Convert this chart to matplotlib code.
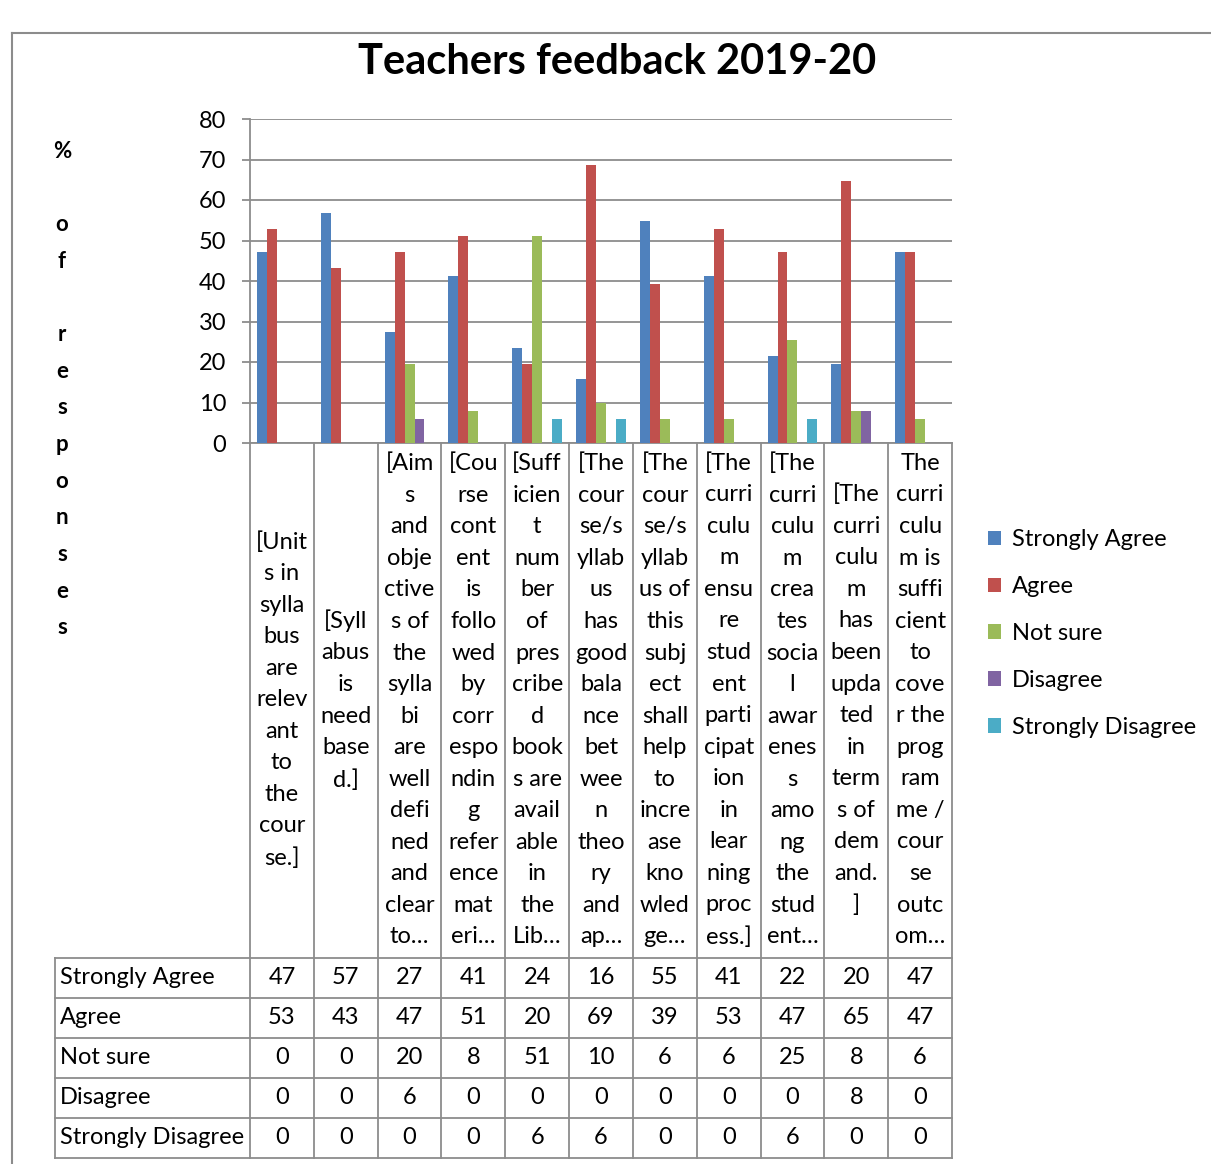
import numpy as np
import matplotlib
matplotlib.use('Agg')
import matplotlib.pyplot as plt
from matplotlib.transforms import blended_transform_factory

plt.rcParams['font.family'] = ['Lato', 'DejaVu Sans']

categories = [
    "[Unit\ns in\nsylla\nbus\nare\nrelev\nant\nto\nthe\ncour\nse.]",
    "[Syll\nabus\nis\nneed\nbase\nd.]",
    "[Aim\ns\nand\nobje\nctive\ns of\nthe\nsylla\nbi\nare\nwell\ndefi\nned\nand\nclear\nto…",
    "[Cou\nrse\ncont\nent\nis\nfollo\nwed\nby\ncorr\nespo\nndin\ng\nrefer\nence\nmat\neri…",
    "[Suff\nicien\nt\nnum\nber\nof\npres\ncribe\nd\nbook\ns are\navail\nable\nin\nthe\nLib…",
    "[The\ncour\nse/s\nyllab\nus\nhas\ngood\nbala\nnce\nbet\nwee\nn\ntheo\nry\nand\nap…",
    "[The\ncour\nse/s\nyllab\nus of\nthis\nsubj\nect\nshall\nhelp\nto\nincre\nase\nkno\nwled\nge…",
    "[The\ncurri\nculu\nm\nensu\nre\nstud\nent\nparti\ncipat\nion\nin\nlear\nning\nproc\ness.]",
    "[The\ncurri\nculu\nm\ncrea\ntes\nsocia\nl\nawar\nenes\ns\namo\nng\nthe\nstud\nent…",
    "[The\ncurri\nculu\nm\nhas\nbeen\nupda\nted\nin\nterm\ns of\ndem\nand.\n]",
    "The\ncurri\nculu\nm is\nsuffi\ncient\nto\ncove\nr the\nprog\nram\nme /\ncour\nse\noutc\nom…",
]
series_names = ["Strongly Agree", "Agree", "Not sure", "Disagree", "Strongly Disagree"]
strongly_agree = [47.1, 56.9, 27.4, 41.2, 23.5, 15.7, 54.9, 41.2, 21.6, 19.6, 47.1]
agree = [52.9, 43.1, 47.1, 51.0, 19.6, 68.6, 39.2, 52.9, 47.1, 64.7, 47.1]
not_sure = [0, 0, 19.6, 7.8, 51.0, 9.8, 5.9, 5.9, 25.4, 7.8, 5.9]
disagree = [0, 0, 5.9, 0, 0, 0, 0, 0, 0, 7.8, 0]
strongly_disagree = [0, 0, 0, 0, 5.9, 5.9, 0, 0, 5.9, 0, 0]
series = [strongly_agree, agree, not_sure, disagree, strongly_disagree]
colors = ['#4F81BD', '#C0504D', '#9BBB59', '#8064A2', '#4BACC6']

W, H = 1211, 1164
grey = '#8c8c8c'
fs = 17

fig = plt.figure(figsize=(W / 100, H / 100), dpi=100)

# eixo "overlay" em pixels para a tabela, titulo e moldura
ov = fig.add_axes([0, 0, 1, 1])
ov.set_xlim(0, W)
ov.set_ylim(H, 0)
ov.axis('off')

ax = fig.add_axes([250 / W, (H - 443) / H, 702 / W, 324 / H])
x = np.arange(len(categories))
bw = 0.156
for k, (name, vals, col) in enumerate(zip(series_names, series, colors)):
    ax.bar(x + (k - 2) * bw, vals, bw, color=col, label=name, zorder=3)

ax.set_xlim(-0.5, len(categories) - 0.5)
ax.set_ylim(0, 80)
ax.set_yticks(range(0, 81, 10))
ax.set_xticks([])
ax.grid(axis='y', color=grey, lw=1.3)
ax.set_axisbelow(True)
for s in ['top', 'right']:
    ax.spines[s].set_visible(False)
for s in ['left', 'bottom']:
    ax.spines[s].set_color(grey)
    ax.spines[s].set_linewidth(1.3)
ax.tick_params(axis='y', length=6, width=1.3, color=grey, pad=11, labelsize=fs)
ax.patch.set_alpha(0)

ax.legend(loc='upper left', bbox_to_anchor=(988 / W, 1 - 529 / H),
          bbox_transform=fig.transFigure, frameon=False, fontsize=fs,
          handlelength=0.55, handleheight=0.55, handletextpad=0.45,
          labelspacing=1.1, borderaxespad=0, borderpad=0)

# tabela de dados abaixo do grafico
blend = blended_transform_factory(ax.transData, ov.transData)
row_y = [958, 998, 1038, 1078, 1118, 1158]
for i in range(len(categories) + 1):
    ov.plot([i - 0.5, i - 0.5], [443, row_y[-1]], color=grey, lw=1.3,
            transform=blend, clip_on=False)
ov.plot([55, 55], [row_y[0], row_y[-1]], color=grey, lw=1.3)
for yy in row_y:
    ov.plot([55, 952], [yy, yy], color=grey, lw=1.3)

for i, lab in enumerate(categories):
    ov.text(i, 700, lab, ha='center', va='center', fontsize=fs,
            linespacing=1.62, transform=blend)

for r, (name, vals) in enumerate(zip(series_names, series)):
    yc = (row_y[r] + row_y[r + 1]) / 2
    ov.text(60, yc, name, ha='left', va='center', fontsize=fs)
    for i, v in enumerate(vals):
        ov.text(i, yc, f"{v:.0f}", ha='center', va='center', fontsize=fs,
                transform=blend)

# rotulo do eixo y, letras empilhadas
ov.text(62, 141, "%\n\no\nf\n\nr\ne\ns\np\no\nn\ns\ne\ns", ha='center', va='top',
        fontsize=16, fontweight='bold', linespacing=1.92)

ov.text(617, 62, "Teachers feedback 2019-20", ha='center', va='center',
        fontsize=30, fontweight='bold')

# moldura do grafico
ov.plot([12, 12], [33, H], color=grey, lw=1.5)
ov.plot([12, W], [33, 33], color=grey, lw=1.5)

fig.savefig('out.png', dpi=100)
